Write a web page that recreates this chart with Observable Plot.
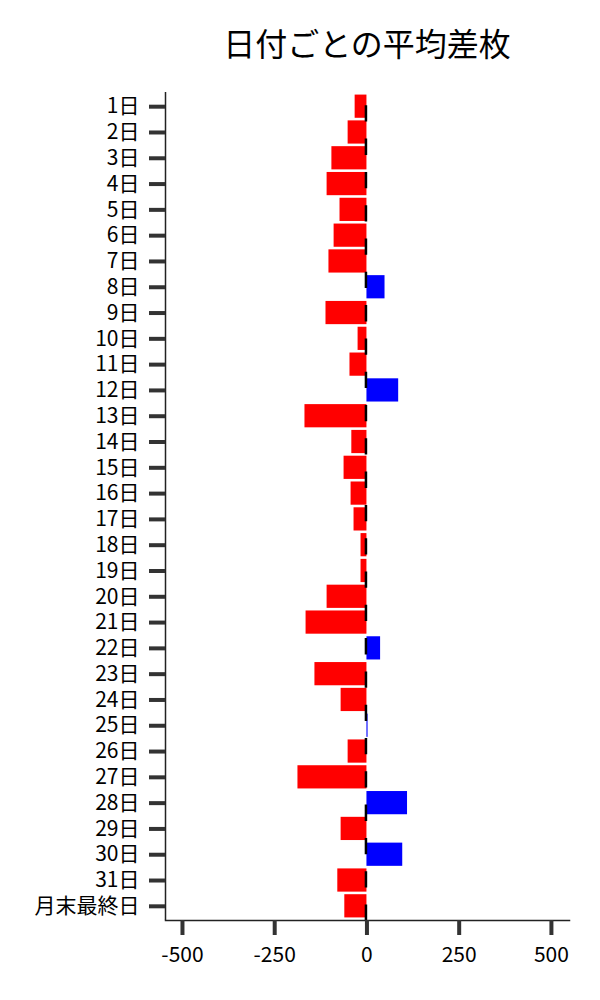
<!DOCTYPE html>
<html><head><meta charset="utf-8">
<script src="https://cdn.jsdelivr.net/npm/d3@7"></script>
<script src="https://cdn.jsdelivr.net/npm/@observablehq/plot@0.6"></script>
<style>
body{margin:0;background:#fff;font-family:"Noto Sans CJK JP",sans-serif;}
#title{height:80px;line-height:84px;margin-left:165px;width:404px;text-align:center;font-size:32px;color:#000;white-space:nowrap;}
</style></head><body>
<div id="title">日付ごとの平均差枚</div>
<div id="chart"></div>
<script>
const days = ["1日","2日","3日","4日","5日","6日","7日","8日","9日","10日","11日","12日","13日","14日","15日","16日","17日","18日","19日","20日","21日","22日","23日","24日","25日","26日","27日","28日","29日","30日","31日","月末最終日"];
const values = [-32,-51,-95,-108,-73,-89,-103,49,-111,-24,-46,86,-168,-41,-62,-43,-35,-16,-16,-108,-165,37,-141,-70,3,-51,-187,110,-70,97,-79,-60];
const xTicks = [-500,-250,0,250,500];
const xDomain = [-546, 549];
const posColor = "#0000ff";
const negColor = "#ff0000";

const data = days.map((d, i) => ({day: d, value: values[i]}));

const chart = Plot.plot({
  width: 600, height: 920,
  marginTop: 12, marginBottom: 80, marginLeft: 165, marginRight: 31,
  style: {fontFamily: "'Noto Sans CJK JP', sans-serif", fontSize: "21px", color: "#000", background: "#fff"},
  x: {domain: xDomain, ticks: xTicks, tickFormat: d => String(d), label: null},
  y: {domain: days, padding: 0.1, round: false, label: null},
  marks: [
    Plot.barX(data.filter(d => d.value < 0), {x: "value", y: "day", fill: negColor}),
    Plot.barX(data.filter(d => d.value >= 0), {x: "value", y: "day", fill: posColor}),
    Plot.ruleX([0], {stroke: "#000", strokeWidth: 2.5, strokeDasharray: "16.3,17", strokeDashoffset: 20, dx: -1}),
    Plot.ruleX([xDomain[0]], {stroke: "#222", strokeWidth: 1.5}),
    Plot.frame({anchor: "bottom", stroke: "#222", strokeWidth: 1.5}),
    Plot.axisY({tickSize: 16, tickPadding: 10, stroke: "#333", strokeWidth: 4, fill: "#000", label: null}),
    Plot.axisX({ticks: xTicks, tickFormat: d => String(d), tickSize: 15, tickPadding: 12, stroke: "#333", strokeWidth: 4, fill: "#000", label: null})
  ]
});
document.getElementById("chart").appendChild(chart);
</script>
</body></html>
